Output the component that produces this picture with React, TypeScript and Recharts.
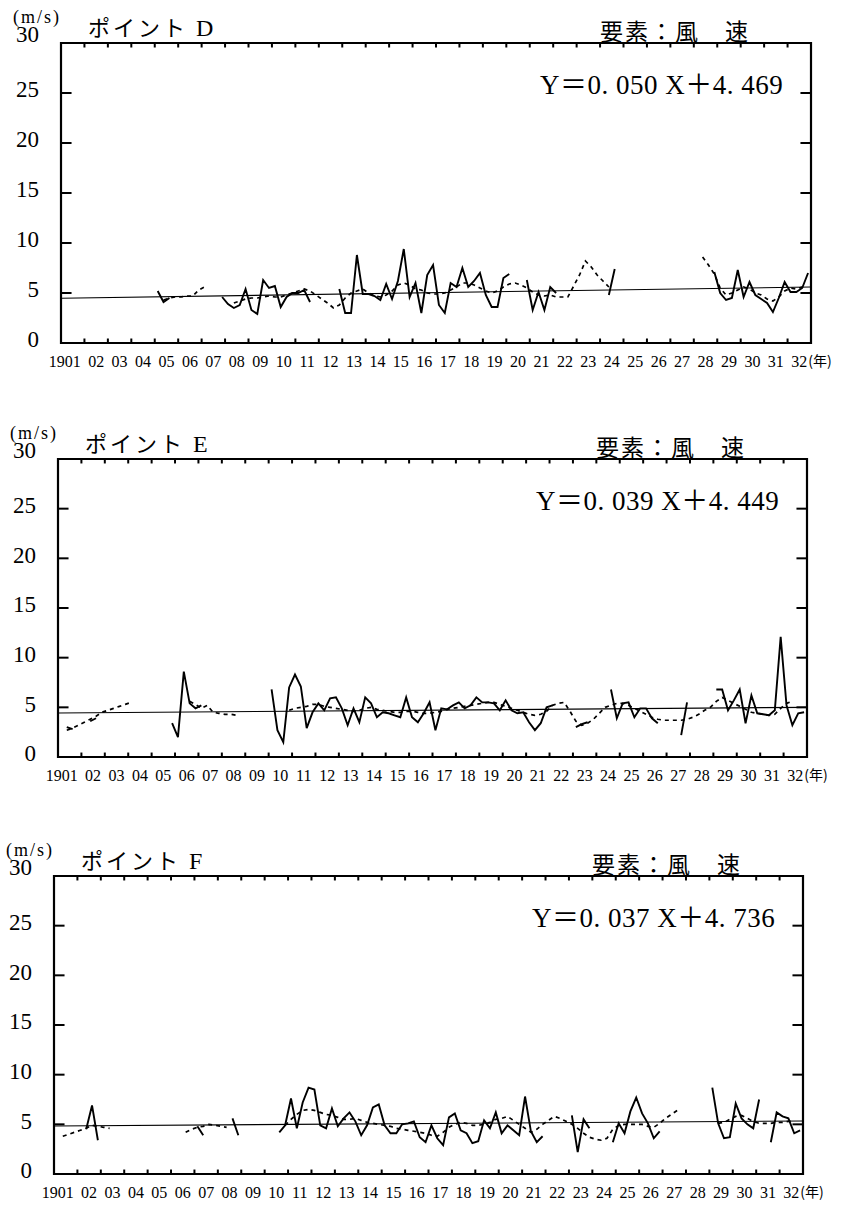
import React from 'react';
import { LineChart, Line, XAxis, YAxis, ReferenceLine, ReferenceArea } from 'recharts';

const n = null;

const YEAR_LABELS = ['1901','02','03','04','05','06','07','08','09','10','11','12','13','14','15','16','17','18','19','20','21','22','23','24','25','26','27','28','29','30','31','32'];
const Y_TICKS = [0, 5, 10, 15, 20, 25, 30];
const X_TICKS = YEAR_LABELS.map((_, i) => i + 0.5);
const INNER_Y_TICKS = [5, 10, 15, 20, 25];
const YEAR_BOUNDS = YEAR_LABELS.slice(1).map((_, i) => i + 1);

// quarterly values, 4 per year, 1901..1932
const D_SPEED = [
  n,n,n,n, n,n,n,n, n,n,n,n, n,n,n,n,
  5.2,4.1,4.5,n, n,n,n,n, n,n,n,4.6, 3.9,3.5,3.8,5.4,
  3.3,2.9,6.3,5.5, 5.7,3.6,4.6,5.0, 5.0,5.3,4.1,n, n,n,n,5.4,
  3.0,3.0,8.8,4.9, 4.9,4.7,4.3,5.9, 4.4,6.2,9.4,4.6, 6.0,3.0,6.8,7.8,
  3.8,3.0,6.0,5.6, 7.5,5.6,6.2,7.0, 4.8,3.6,3.6,6.5, 6.9,n,n,6.3,
  3.3,5.1,3.3,5.6, 5.0,n,n,n, n,n,n,n, n,4.8,7.4,n,
  n,n,n,n, n,n,n,n, n,n,n,n, n,n,n,7.1,
  5.0,4.3,4.5,7.3, 4.6,6.1,4.8,4.4, 4.0,3.1,4.5,6.1, 5.1,5.1,5.5,7.0,
];
const D_MEAN = [
  n,n,n,n, n,n,n,n, n,n,n,n, n,n,n,n,
  n,4.3,4.5,4.6, 4.6,4.7,4.7,5.3, 5.6,n,n,n, n,4.0,4.2,4.4,
  4.5,4.5,4.6,4.7, 4.6,4.6,4.8,5.0, 5.2,5.4,5.2,4.8, 4.4,4.0,3.5,3.8,
  4.5,5.0,5.2,5.4, 5.0,4.7,4.6,4.8, 5.2,5.8,6.0,5.8, 5.4,5.3,5.0,4.9,
  4.9,5.0,5.3,5.6, 6.0,6.0,5.8,5.5, 5.2,5.0,5.2,5.6, 5.9,6.0,5.8,5.5,
  5.1,4.8,4.7,4.8, 4.6,4.6,4.6,5.7, 6.8,8.2,7.6,6.8, 6.2,5.6,n,n,
  n,n,n,n, n,n,n,n, n,n,n,n, n,8.6,7.8,6.9,
  5.5,4.8,5.0,5.3, 5.6,5.4,5.0,4.8, 4.4,4.2,4.6,5.2, 5.5,5.4,5.6,n,
];
const E_SPEED = [
  n,3.0,2.8,n, n,3.6,3.9,n, n,n,n,n, n,n,n,n,
  n,n,n,3.4, 2.0,8.6,5.4,4.9, 5.2,n,n,n, n,n,n,n,
  n,n,n,n, 6.8,2.7,1.5,7.0, 8.3,7.1,2.9,4.5, 5.4,4.7,5.9,6.0,
  4.9,3.2,4.9,3.5, 6.0,5.4,4.0,4.5, 4.4,4.2,4.0,6.0, 4.0,3.5,4.4,5.5,
  2.7,4.9,4.8,5.2, 5.5,4.9,5.2,6.0, 5.5,5.5,5.4,4.7, 5.7,4.7,4.4,4.5,
  3.5,2.7,3.4,5.0, 5.2,n,n,n, 3.0,3.3,3.5,n, n,n,6.8,3.9,
  5.4,5.5,4.0,4.9, 4.9,3.9,3.4,n, n,n,2.2,5.5, n,n,n,n,
  6.8,6.8,4.7,5.7, 6.8,3.4,6.2,4.4, 4.3,4.2,4.7,12.1, 5.2,3.2,4.4,4.5,
];
const E_MEAN = [
  n,2.7,2.9,3.2, 3.5,3.8,4.1,4.5, 4.7,4.9,5.1,5.3, 5.5,n,n,n,
  n,n,n,n, n,n,5.6,5.3, 4.9,5.2,4.5,4.4, 4.3,4.3,4.2,n,
  n,n,n,n, n,n,n,4.7, 4.9,5.0,5.1,5.3, 5.3,5.1,5.0,4.9,
  4.8,4.7,4.6,4.7, 4.9,5.0,4.8,4.7, 4.6,4.5,4.5,4.6, 4.6,4.5,4.4,4.4,
  4.5,4.6,4.8,4.9, 5.0,5.1,5.2,5.3, 5.4,5.5,5.5,5.3, 5.1,4.9,4.7,4.5,
  4.3,4.2,4.3,4.6, 5.2,5.4,5.5,4.6, 3.6,3.2,3.4,3.8, 4.4,5.0,5.2,5.4,
  5.4,5.2,4.9,4.6, 4.3,4.0,3.8,3.7, 3.7,3.7,3.7,3.8, 4.0,4.3,4.7,5.0,
  5.6,6.0,5.7,5.4, 5.1,4.8,4.5,4.4, 4.3,4.2,4.3,4.9, 5.4,5.6,n,n,
];
const F_SPEED = [
  n,n,n,n, n,4.5,6.9,3.4, n,n,n,n, n,n,n,n,
  n,n,n,n, n,n,n,n, 4.8,3.9,n,n, n,n,5.6,3.9,
  n,n,n,n, n,n,4.2,4.9, 7.6,4.6,7.2,8.7, 8.5,4.9,4.6,6.6,
  4.8,5.6,6.2,5.3, 3.9,4.9,6.7,7.0, 4.9,4.1,4.1,5.0, 5.1,5.3,3.7,3.2,
  4.9,3.6,2.9,5.7, 6.1,4.4,4.1,3.1, 3.3,5.4,4.6,6.2, 4.1,4.9,4.4,3.9,
  7.8,4.3,3.2,3.8, n,n,n,n, 5.9,2.2,5.5,4.6, n,n,n,3.2,
  5.1,4.1,6.3,7.7, 6.1,5.1,3.6,4.3, n,n,n,n, n,n,n,n,
  8.7,5.1,3.6,3.7, 7.1,5.6,5.0,4.6, 7.5,n,3.2,6.2, 5.8,5.6,4.1,4.4,
];
const F_MEAN = [
  n,3.8,4.0,4.2, 4.4,4.6,4.9,4.8, 4.7,4.6,n,n, n,n,n,n,
  n,n,n,n, n,n,4.2,4.5, 4.7,4.8,5.0,4.9, 4.8,4.7,n,n,
  n,n,n,n, n,n,n,4.9, 5.5,6.0,6.4,6.5, 6.4,6.2,6.0,5.9,
  5.7,5.5,5.5,5.6, 5.4,5.2,5.1,5.0, 4.9,4.8,4.6,4.5, 4.4,4.3,4.2,4.1,
  3.9,3.8,4.2,4.7, 5.0,5.2,5.1,4.9, 4.9,5.0,5.2,5.5, 5.6,5.8,5.4,5.0,
  4.6,4.2,4.5,5.0, 5.4,5.8,5.6,5.3, 5.0,4.6,4.1,3.7, 3.5,3.4,3.6,4.5,
  4.9,5.0,5.0,5.0, 5.0,4.8,4.7,5.1, 5.6,6.0,6.4,n, n,n,n,n,
  n,5.1,5.2,5.5, 5.8,5.9,5.6,5.3, 5.1,5.1,5.1,5.2, 5.2,5.3,5.3,n,
];

// regression line values at the start and end of the period
const D_TREND = [4.47, 5.6];
const E_TREND = [4.43, 5.0];
const F_TREND = [4.83, 5.34];

const D_EQUATION = 'Y＝0. 050 X＋4. 469';
const E_EQUATION = 'Y＝0. 039 X＋4. 449';
const F_EQUATION = 'Y＝0. 037 X＋4. 736';

const SERIF = '"Liberation Serif", "DejaVu Serif", "Noto Sans CJK JP", serif';
const CJK = '"Noto Sans CJK JP", "Liberation Serif", sans-serif';

function buildRows(speed: (number | null)[], mean: (number | null)[]) {
  return speed.map((v, i) => ({
    t: Math.floor(i / 4) + ((i % 4) + 0.5) / 4,
    speed: v,
    mean: mean[i],
  }));
}

function YearTick(props: any) {
  const { x, y, payload } = props;
  const i = Math.floor(payload.value);
  const label = YEAR_LABELS[i];
  const common = { y, dy: '0.71em', fontSize: 16, fill: '#000', fontFamily: SERIF } as any;
  if (i === 0) {
    return <text {...common} x={x + 8} textAnchor="end">{label}</text>;
  }
  if (i === YEAR_LABELS.length - 1) {
    return (
      <g>
        <text {...common} x={x} textAnchor="middle">{label}</text>
        <text x={x + 9} y={y} dy="0.71em" fontSize={14} fill="#000" fontFamily={CJK} textAnchor="start">(年)</text>
      </g>
    );
  }
  return <text {...common} x={x} textAnchor="middle">{label}</text>;
}

function ValueTick(props: any) {
  const { x, y, payload } = props;
  const shift = payload.value === 30 ? -9 : -4;
  return (
    <text x={x} y={y + shift} dy="0.36em" textAnchor="end" fontSize={23} fill="#000" fontFamily={SERIF}>
      {payload.value}
    </text>
  );
}

type PanelProps = {
  top: number; left: number; right: number; plotH: number;
  letter: string; eq: string;
  speed: (number | null)[]; mean: (number | null)[]; trend: number[];
};

function Panel({ top, left, right, plotH, letter, eq, speed, mean, trend }: PanelProps) {
  const rows = buildRows(speed, mean);
  const trendRows = [{ t: 0, trend: trend[0] }, { t: YEAR_LABELS.length, trend: trend[1] }];
  const mTop = 40;
  const xH = 45;
  const h = plotH + mTop + xH;
  return (
    <div style={{ position: 'absolute', top: top - mTop, left: 0, width: 850, height: h }}>
      <LineChart width={850} height={h} data={rows} margin={{ top: mTop, right: 850 - right, bottom: 0, left: 0 }}>
        <XAxis type="number" dataKey="t" domain={[0, 32]} ticks={X_TICKS} interval={0}
          tick={<YearTick />} tickLine={false} axisLine={false} height={xH} tickSize={0} tickMargin={13} allowDataOverflow />
        <YAxis type="number" domain={[0, 30]} ticks={Y_TICKS} interval={0} width={left}
          tickLine={false} axisLine={false} tickSize={0} tickMargin={22}
          tick={<ValueTick />} allowDataOverflow />
        <ReferenceArea x1={0} x2={32} y1={0} y2={30} fill="none" stroke="#000" strokeWidth={2.2} fillOpacity={0} ifOverflow="visible" />
        {YEAR_BOUNDS.map((v) => (
          <ReferenceLine key={'b' + v} segment={[{ x: v, y: 0 }, { x: v, y: 0.45 }]} stroke="#000" strokeWidth={2} ifOverflow="visible" />
        ))}
        {YEAR_BOUNDS.map((v) => (
          <ReferenceLine key={'t' + v} segment={[{ x: v, y: 30 }, { x: v, y: 29.55 }]} stroke="#000" strokeWidth={2} ifOverflow="visible" />
        ))}
        {INNER_Y_TICKS.map((v) => (
          <ReferenceLine key={'l' + v} segment={[{ x: 0, y: v }, { x: 0.45, y: v }]} stroke="#000" strokeWidth={2} ifOverflow="visible" />
        ))}
        {INNER_Y_TICKS.map((v) => (
          <ReferenceLine key={'r' + v} segment={[{ x: 32, y: v }, { x: 31.55, y: v }]} stroke="#000" strokeWidth={2} ifOverflow="visible" />
        ))}
        <Line data={trendRows} dataKey="trend" stroke="#000" strokeWidth={1.1} dot={false} isAnimationActive={false} connectNulls />
        <Line dataKey="mean" stroke="#000" strokeWidth={1.7} strokeDasharray="4 4" dot={false} isAnimationActive={false} />
        <Line dataKey="speed" stroke="#000" strokeWidth={1.9} dot={false} isAnimationActive={false} />
      </LineChart>
      <div style={{ position: 'absolute', left: left - 48, top: mTop - 35, fontSize: 18, lineHeight: '18px', fontFamily: SERIF, color: '#000', letterSpacing: 2 }}>(m/s)</div>
      <div style={{ position: 'absolute', left: left + 27, top: mTop - 28, fontSize: 22, lineHeight: '22px', fontFamily: CJK, color: '#000', letterSpacing: 3, whiteSpace: 'nowrap' }}>
        ポイント <span style={{ fontFamily: SERIF, fontSize: 24 }}>{letter}</span>
      </div>
      <div style={{ position: 'absolute', left: right - 211, top: mTop - 24, fontSize: 23, lineHeight: '23px', fontFamily: CJK, color: '#000', letterSpacing: 2, whiteSpace: 'nowrap' }}>要素：風　速</div>
      <div style={{ position: 'absolute', left: right - 271, top: mTop + 29, fontSize: 27, lineHeight: '27px', fontFamily: SERIF, color: '#000', whiteSpace: 'nowrap', letterSpacing: 0.5 }}>{eq}</div>
    </div>
  );
}

export default function App() {
  return (
    <div style={{ position: 'absolute', top: 0, left: 0, width: 850, height: 1220, background: '#fff', overflow: 'hidden' }}>
      <Panel top={43} left={61} right={811} plotH={300} letter="D" eq={D_EQUATION} speed={D_SPEED} mean={D_MEAN} trend={D_TREND} />
      <Panel top={459} left={58} right={807} plotH={298} letter="E" eq={E_EQUATION} speed={E_SPEED} mean={E_MEAN} trend={E_TREND} />
      <Panel top={876} left={54} right={803} plotH={298} letter="F" eq={F_EQUATION} speed={F_SPEED} mean={F_MEAN} trend={F_TREND} />
    </div>
  );
}
